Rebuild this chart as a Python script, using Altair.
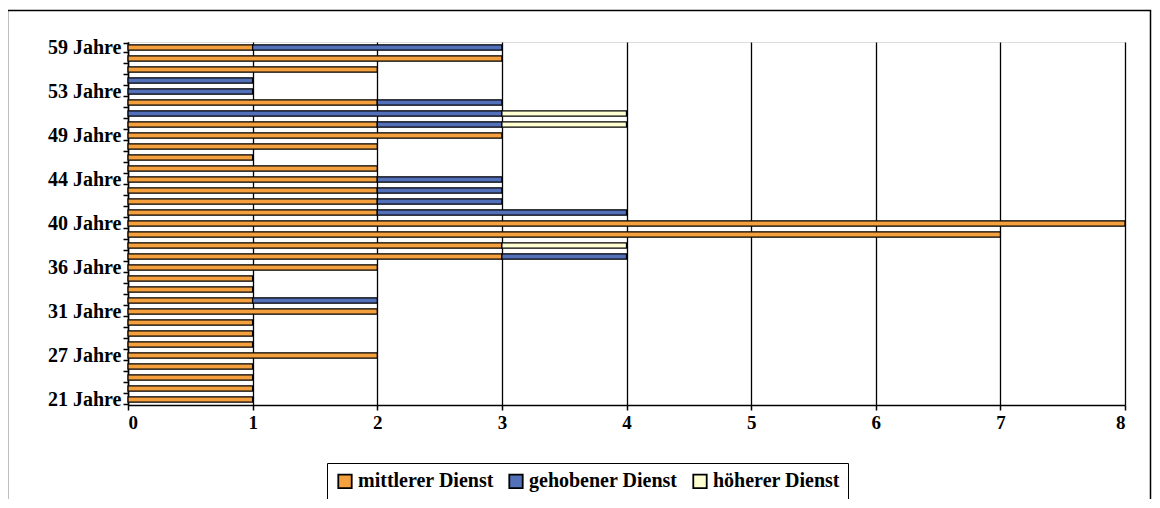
import altair as alt
import pandas as pd

# categories, bottom to top
ages = [21, 23, 24, 25, 27, 28, 29, 30, 31, 32, 33, 34, 36, 37, 38, 39, 40,
        41, 42, 43, 44, 45, 46, 47, 49, 50, 51, 52, 53, 55, 56, 57, 59]
mittlerer = [1, 1, 1, 1, 2, 1, 1, 1, 2, 1, 1, 1, 2, 3, 3, 7, 8,
             2, 2, 2, 2, 2, 1, 2, 3, 2, 0, 2, 0, 0, 2, 3, 1]
gehobener = [0, 0, 0, 0, 0, 0, 0, 0, 0, 1, 0, 0, 0, 1, 0, 0, 0,
             2, 1, 1, 1, 0, 0, 0, 0, 1, 3, 1, 1, 1, 0, 0, 2]
hoeherer = [0, 0, 0, 0, 0, 0, 0, 0, 0, 0, 0, 0, 0, 0, 1, 0, 0,
            0, 0, 0, 0, 0, 0, 0, 0, 1, 1, 0, 0, 0, 0, 0, 0]
shown_labels = ["21 Jahre", "27 Jahre", "31 Jahre", "36 Jahre", "40 Jahre",
                "44 Jahre", "49 Jahre", "53 Jahre", "59 Jahre"]
series = ["mittlerer Dienst", "gehobener Dienst", "höherer Dienst"]
colors = ["#F5A03E", "#5271B8", "#FFFFD2"]

labels = [f"{a} Jahre" for a in ages]
rows = []
for lab, m, g, h in zip(labels, mittlerer, gehobener, hoeherer):
    for k, (s, v) in enumerate(zip(series, [m, g, h])):
        if v > 0:
            rows.append({"Alter": lab, "Dienst": s, "Anzahl": v, "ord": k})
df = pd.DataFrame(rows)

font = "Liberation Serif"
label_expr = "indexof(" + str(shown_labels) + ", datum.value) >= 0 ? datum.value : ''"

bars = alt.Chart(df).mark_bar(size=5.3, stroke="black", strokeWidth=1.3).encode(
    y=alt.Y("Alter:N", sort=labels[::-1], title=None,
            axis=alt.Axis(labelExpr=label_expr, labelOverlap=False, tickBand="extent",
                          labelFont=font, labelFontWeight="bold", labelFontSize=20,
                          labelColor="black", tickColor="black", tickSize=5, tickWidth=1.5,
                          domainColor="black", domainWidth=1.5, labelPadding=2, grid=False)),
    x=alt.X("Anzahl:Q", stack="zero", title=None,
            scale=alt.Scale(domain=[0, 8], nice=False),
            axis=alt.Axis(values=list(range(9)), format="d", grid=True, gridColor="black",
                          gridWidth=1.3, gridOpacity=1, labelFont=font, labelFontWeight="bold",
                          labelFontSize=19, labelColor="black", tickColor="black",
                          tickSize=5, tickWidth=1.5, domainColor="black", domainWidth=1.5,
                          labelPadding=3)),
    color=alt.Color("Dienst:N", scale=alt.Scale(domain=series, range=colors),
                    legend=alt.Legend(title=None, orient="none", legendX=199, legendY=421,
                                      direction="horizontal", columns=3,
                                      symbolType="square", symbolSize=180,
                                      symbolStrokeColor="black", symbolStrokeWidth=1.8,
                                      symbolOpacity=1,
                                      labelFont=font, labelFontWeight="bold", labelFontSize=20,
                                      labelColor="black", labelOffset=3, columnPadding=11,
                                      strokeColor="black", padding=8, fillColor="white",
                                      labelLimit=300)),
    order=alt.Order("ord:Q"),
)

frame = alt.Chart(alt.Data(values=[{}])).mark_rect(
    filled=False, stroke="black", strokeWidth=1.5, clip=False
).encode(x=alt.value(-120.5), x2=alt.value(1022.5), y=alt.value(-31.5), y2=alt.value(470))

chart = alt.layer(frame, bars).properties(
    width=997, height=363,
    autosize=alt.AutoSizeParams(type="none"),
    padding={"left": 120, "top": 34, "right": 27, "bottom": 94},
).configure_view(stroke="#888888", strokeWidth=2).configure(background="white")

chart.save("out.html", embed_options={"renderer": "svg", "actions": False})
